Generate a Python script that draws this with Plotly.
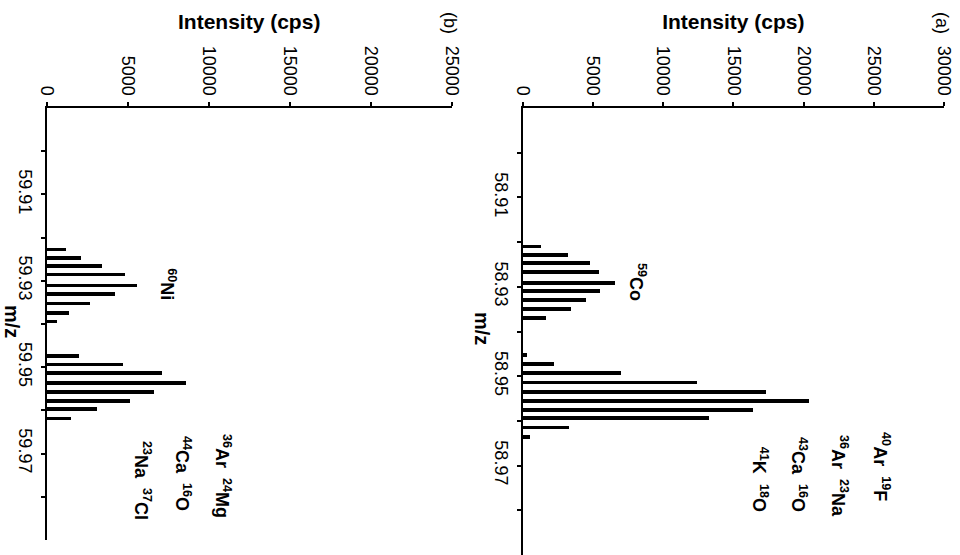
import plotly.graph_objects as go

# ---- data (panel a: 59Co region) ----
mz_a = [58.9210, 58.9229, 58.9247, 58.9267, 58.9291, 58.9310, 58.9330, 58.9350, 58.9370,
        58.9452, 58.9473, 58.9493, 58.9514, 58.9535, 58.9555, 58.9575, 58.9594, 58.9615, 58.9636]
int_a = [1300, 3200, 4800, 5430, 6570, 5500, 4500, 3420, 1610,
         280, 2230, 6980, 12390, 17330, 20340, 16380, 13250, 3250, 520]

# ---- data (panel b: 60Ni region) ----
mz_b = [59.9227, 59.9247, 59.9266, 59.9286, 59.9311, 59.9331, 59.9352, 59.9374, 59.9394,
        59.9474, 59.9494, 59.9513, 59.9537, 59.9557, 59.9578, 59.9597, 59.9619]
int_b = [1170, 2080, 3400, 4790, 5560, 4170, 2670, 1360, 620,
         1950, 4690, 7080, 8560, 6600, 5100, 3100, 1480]

range_a = [58.89, 58.99]
range_b = [59.89, 59.99]
ticks_a = [58.91, 58.93, 58.95, 58.97]
ticks_b = [59.91, 59.93, 59.95, 59.97]
ticklabels_a = ["58.91", "58.93", "58.95", "58.97"]
ticklabels_b = ["59.91", "59.93", "59.95", "59.97"]
minor_a = [58.90, 58.92, 58.94, 58.96, 58.98]
minor_b = [59.90, 59.92, 59.94, 59.96, 59.98]
int_ticks_a = [0, 5000, 10000, 15000, 20000, 25000, 30000]
int_ticks_b = [0, 5000, 10000, 15000, 20000, 25000]

labels_a = [("<sup>59</sup>Co", 8126, 58.9289),
            ("<sup>40</sup>Ar  <sup>19</sup>F", 25540, 58.9702),
            ("<sup>36</sup>Ar  <sup>23</sup>Na", 22560, 58.9722),
            ("<sup>43</sup>Ca  <sup>16</sup>O", 19640, 58.9720),
            ("<sup>41</sup>K  <sup>18</sup>O", 16870, 58.9731)]
labels_b = [("<sup>60</sup>Ni", 7488, 59.9308),
            ("<sup>36</sup>Ar  <sup>24</sup>Mg", 10883, 59.9752),
            ("<sup>44</sup>Ca  <sup>16</sup>O", 8414, 59.9745),
            ("<sup>23</sup>Na  <sup>37</sup>Cl", 5883, 59.9761)]

FONT = "Liberation Sans, Arial, sans-serif"
BAR_W = 0.0008
W, H, TOP = 960, 555, 108
PH = H - TOP  # plot-area height in px


def px_x(px):
    return px / W


def px_y(py):
    return (H - py) / PH


fig = go.Figure()
fig.add_trace(go.Bar(x=int_b, y=mz_b, orientation="h", width=BAR_W,
                     marker=dict(color="black", line=dict(width=0)),
                     xaxis="x", yaxis="y", showlegend=False))
fig.add_trace(go.Bar(x=int_a, y=mz_a, orientation="h", width=BAR_W,
                     marker=dict(color="black", line=dict(width=0)),
                     xaxis="x2", yaxis="y2", showlegend=False))


def xax(dom, rmax, tv):
    return dict(domain=dom, range=[0, rmax], tickmode="array", tickvals=tv,
                ticktext=[str(v) for v in tv], side="top",
                showline=True, linewidth=2, linecolor="black", mirror=False,
                ticks="outside", ticklen=4, tickwidth=2, tickcolor="black",
                tickangle=90, showgrid=False, zeroline=False,
                tickfont=dict(family=FONT, size=18, color="black"),
                title=dict(text="Intensity (cps)", standoff=10,
                           font=dict(family=FONT, size=21, color="black", weight="bold")))


def yax(dom, rng, anchor, tv, tt, mv):
    return dict(domain=dom, range=[rng[1], rng[0]], anchor=anchor,
                tickmode="array", tickvals=tv, ticktext=tt,
                showline=True, linewidth=2, linecolor="black",
                ticks="outside", ticklen=4, tickwidth=2, tickcolor="black",
                minor=dict(tickmode="array", tickvals=mv, ticks="outside", ticklen=4,
                           tickwidth=2, tickcolor="black", showgrid=False),
                tickangle=90, showgrid=False, zeroline=False,
                tickfont=dict(family=FONT, size=18, color="black"))


fig.update_layout(
    width=W, height=H,
    margin=dict(l=0, r=0, t=TOP, b=0, autoexpand=False),
    paper_bgcolor="white", plot_bgcolor="white",
    xaxis=dict(**xax([px_x(46.7), px_x(451.7)], int_ticks_b[-1], int_ticks_b), anchor="y"),
    yaxis=yax([15 / PH, 1], range_b, "x", ticks_b, ticklabels_b, minor_b),
    xaxis2=dict(**xax([px_x(522.7), px_x(944)], int_ticks_a[-1], int_ticks_a), anchor="y2"),
    yaxis2=yax([0, 1], range_a, "x2", ticks_a, ticklabels_a, minor_a),
    bargap=0,
)

ann = []
for txt, xv, yv in labels_b:
    ann.append(dict(text=txt, x=xv, y=yv, xref="x", yref="y", showarrow=False,
                    textangle=90, font=dict(family=FONT, size=18, color="black", weight="bold")))
for txt, xv, yv in labels_a:
    ann.append(dict(text=txt, x=xv, y=yv, xref="x2", yref="y2", showarrow=False,
                    textangle=90, font=dict(family=FONT, size=18, color="black", weight="bold")))
# rotated m/z axis titles and panel tags
for px, py in [(12, 321), (482, 328)]:
    ann.append(dict(text="m/z", x=px_x(px), y=px_y(py), xref="paper", yref="paper",
                    yanchor="middle", xanchor="center", showarrow=False, textangle=90,
                    font=dict(family=FONT, size=20, color="black", weight="bold")))
for tag, px, py in [("(b)", 450, 23), ("(a)", 942, 23)]:
    ann.append(dict(text=tag, x=px_x(px), y=px_y(py), xref="paper", yref="paper",
                    yanchor="middle", xanchor="center", showarrow=False, textangle=90,
                    font=dict(family=FONT, size=18, color="black")))
fig.update_layout(annotations=ann)

fig.write_html("out.html", config={"displayModeBar": False},
               post_script="document.body.style.margin='0px';document.body.style.overflow='hidden';")
